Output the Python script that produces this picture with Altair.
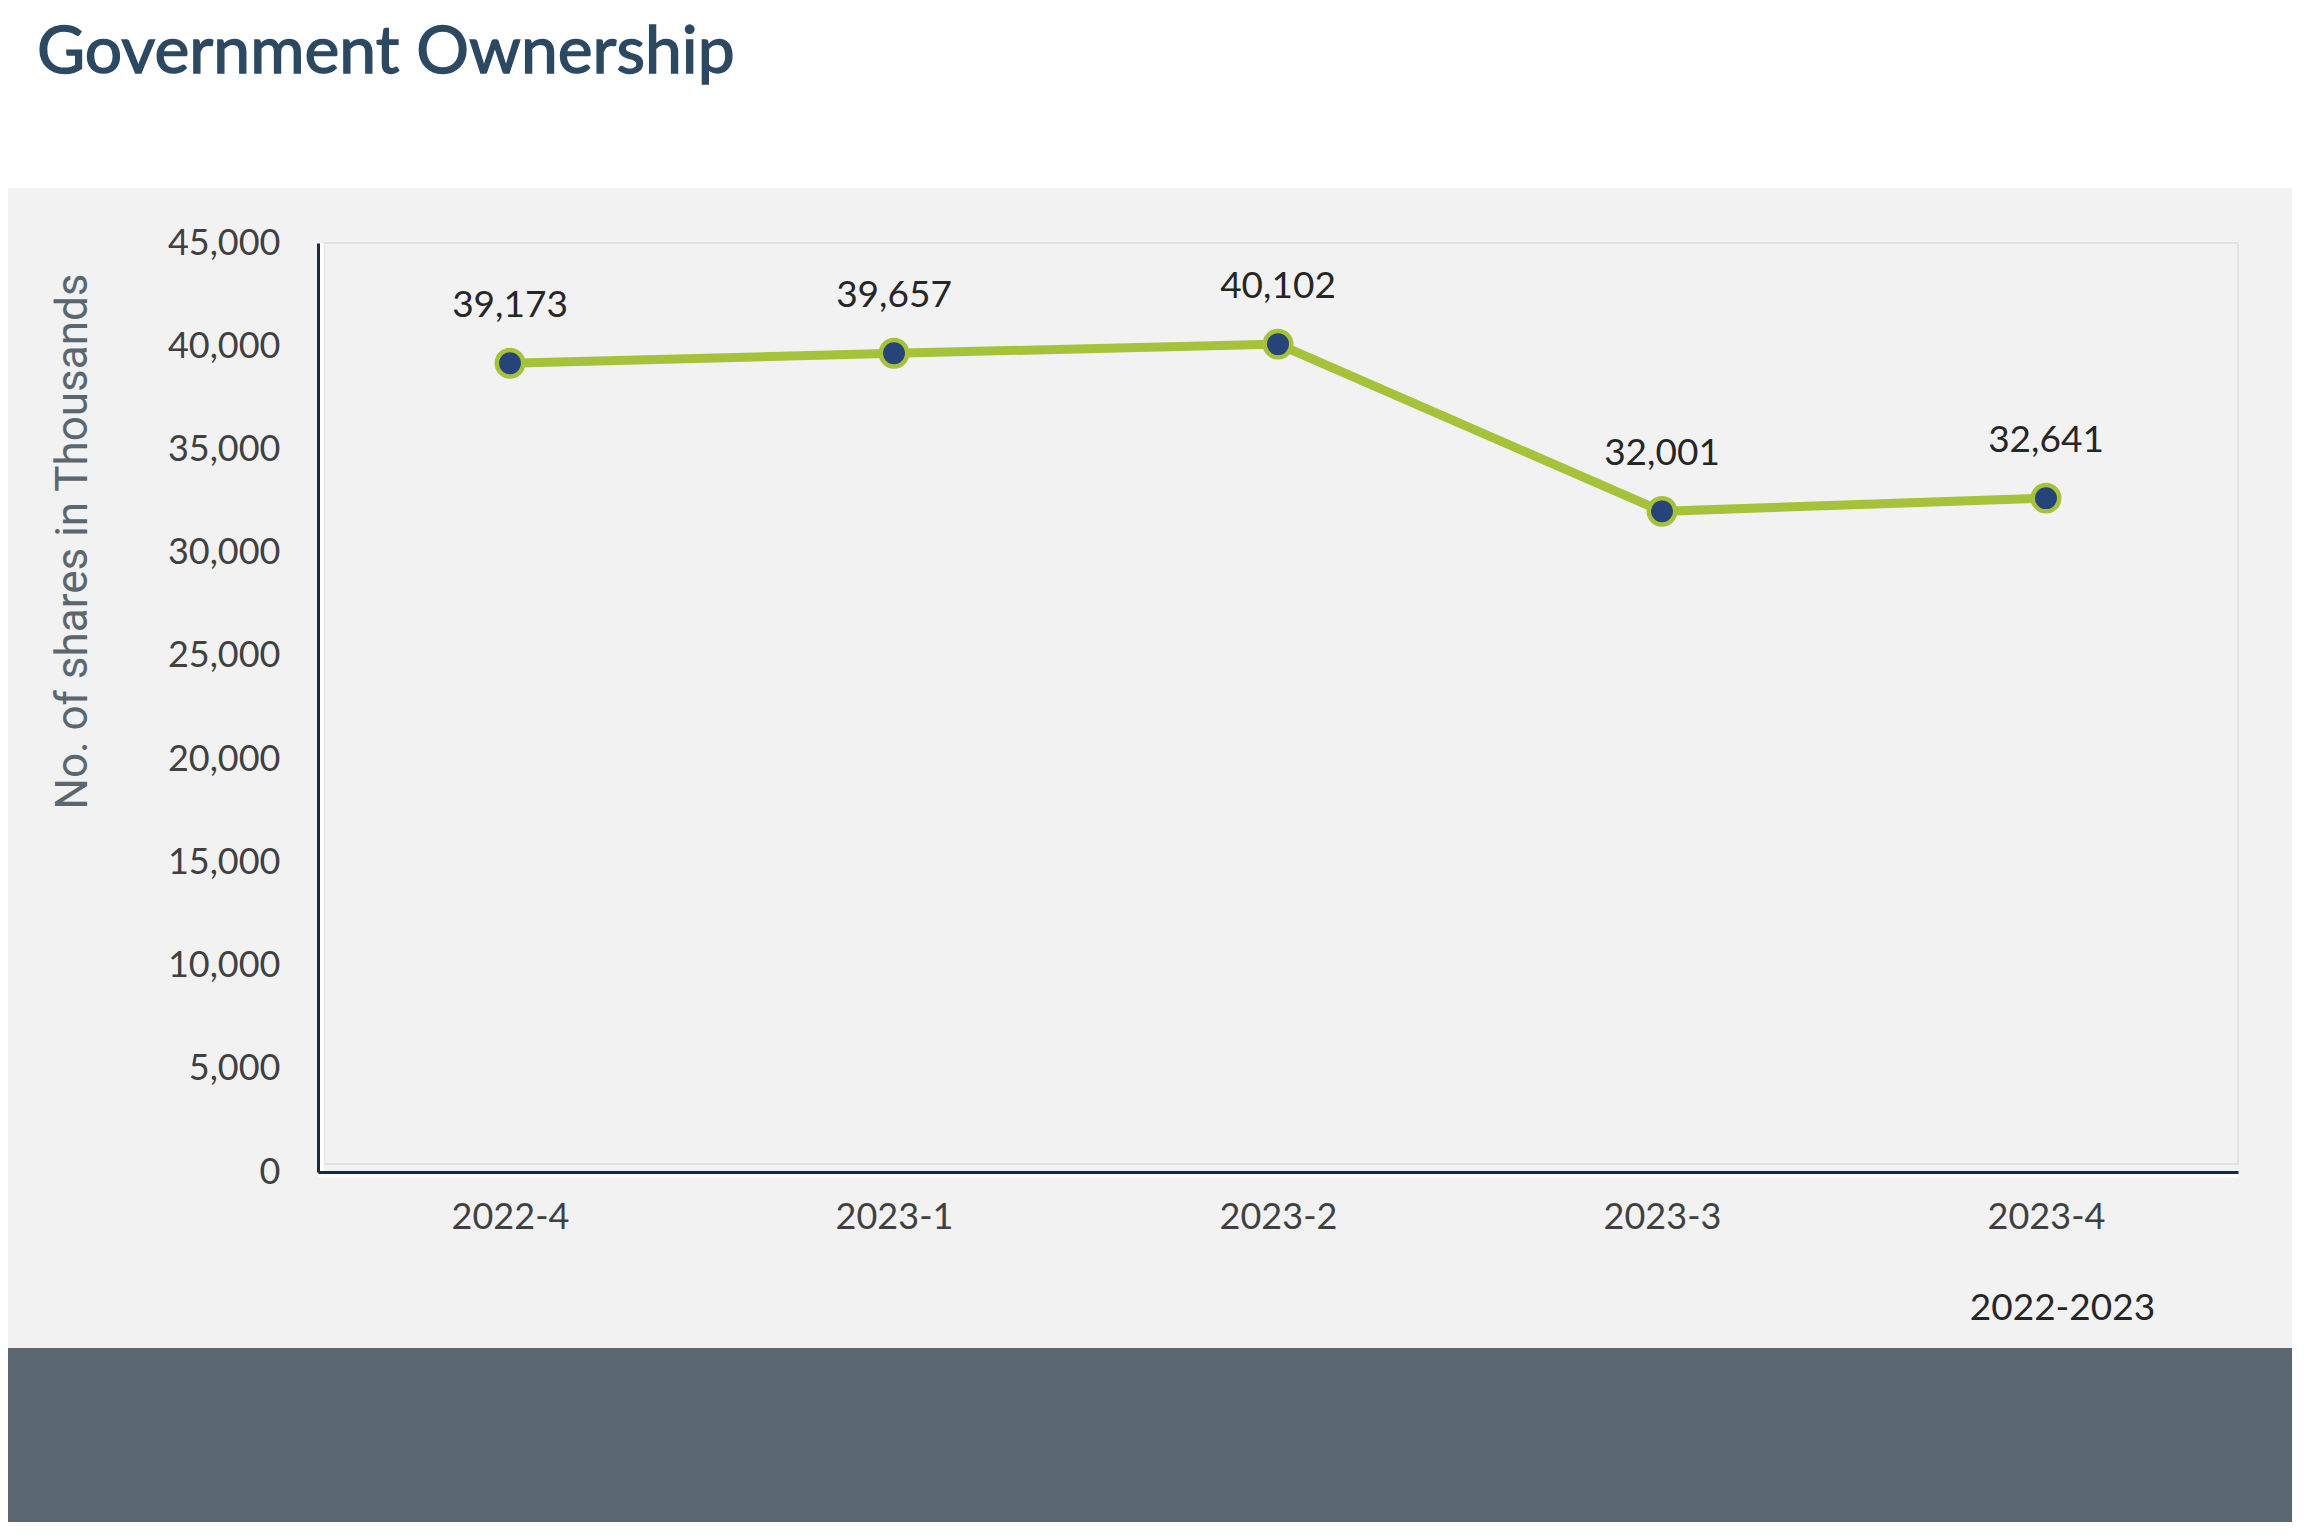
import altair as alt
import pandas as pd

# ---- data ----
quarters = ["2022-4", "2023-1", "2023-2", "2023-3", "2023-4"]
shares = [39173, 39657, 40102, 32001, 32641]
y_ticks = [0, 5000, 10000, 15000, 20000, 25000, 30000, 35000, 40000, 45000]
title_text = "Government Ownership"
y_title = "No. of shares in Thousands"
x_title = "2022-2023"

# ---- layout ----
W, H = 1920, 929
df = pd.DataFrame({"quarter": quarters, "shares": shares})
deco = pd.DataFrame({"k": [0]})
title_df = pd.DataFrame({"t": [title_text]})

x_enc = alt.X(
    "quarter:O",
    sort=quarters,
    scale=alt.Scale(type="point", padding=0.5),
    axis=alt.Axis(
        title=x_title,
        labelAngle=0,
        labelFont="Lato",
        labelFontSize=36,
        labelColor="#404040",
        labelPadding=28,
        ticks=False,
        tickSize=0,
        grid=False,
        domainColor="#1d2a3b",
        domainWidth=3,
        titleFont="Lato",
        titleFontSize=37,
        titleFontWeight="normal",
        titleColor="#262626",
        titleX=1744,
        titleY=136,
        titleAlign="center",
        titleBaseline="middle",
        zindex=1,
    ),
)
y_enc = alt.Y(
    "shares:Q",
    scale=alt.Scale(domain=[0, 45000], nice=False),
    axis=alt.Axis(
        title=y_title,
        values=y_ticks,
        format=",.0f",
        labelFont="Lato",
        labelFontSize=36,
        labelColor="#404040",
        labelPadding=38,
        ticks=False,
        tickSize=0,
        grid=False,
        domainColor="#1d2a3b",
        domainWidth=3,
        titleFont="Roboto",
        titleFontSize=44,
        titleFontWeight="normal",
        titleColor="#5b6770",
        titleX=-245,
        titleY=298,
        titleAngle=270,
        titleAlign="center",
        titleBaseline="middle",
        zindex=1,
    ),
)

panel = alt.Chart(deco).mark_rect(color="#f2f2f2").encode(
    x=alt.value(-330), x2=alt.value(2000), y=alt.value(-55), y2=alt.value(1105)
)
band = alt.Chart(deco).mark_rect(color="#5b6770").encode(
    x=alt.value(-330), x2=alt.value(2000), y=alt.value(1105), y2=alt.value(1400)
)
border = alt.Chart(deco).mark_rect(fillOpacity=0, stroke="#e2e2e2", strokeWidth=2).encode(
    x=alt.value(6), x2=alt.value(W), y=alt.value(0), y2=alt.value(H - 8)
)
hl_y = alt.Chart(deco).mark_rule(color="white", strokeWidth=4).encode(
    x=alt.value(4), y=alt.value(0), y2=alt.value(H)
)
hl_x = alt.Chart(deco).mark_rule(color="white", strokeWidth=3).encode(
    x=alt.value(0), x2=alt.value(W), y=alt.value(H + 4)
)
title = alt.Chart(title_df).mark_text(
    align="left", baseline="alphabetic", font="Lato", fontSize=66,
    fontWeight="normal", color="#2d4962", stroke="#2d4962", strokeWidth=1.4
).encode(text="t:N", x=alt.value(-281), y=alt.value(-170))

base = alt.Chart(df).encode(x=x_enc, y=y_enc)
line = base.mark_line(color="#a5c23a", strokeWidth=9)
points = base.mark_point(
    shape="circle", filled=True, fill="#264478", stroke="#a5c23a",
    strokeWidth=4.5, size=700, opacity=1, fillOpacity=1, strokeOpacity=1,
)
labels = base.mark_text(
    dy=-57, baseline="middle", align="center", font="Lato", fontSize=37, color="#262626"
).encode(text=alt.Text("shares:Q", format=",.0f"))

chart = alt.layer(panel, band, border, hl_y, hl_x, title, line, points, labels).properties(
    width=W,
    height=H,
    autosize=alt.AutoSizeParams(type="none"),
    padding={"left": 310, "top": 235, "right": 54, "bottom": 350},
    background="white",
).configure_view(stroke="transparent")

chart.save("out.html", embed_options={"renderer": "svg", "actions": False})
